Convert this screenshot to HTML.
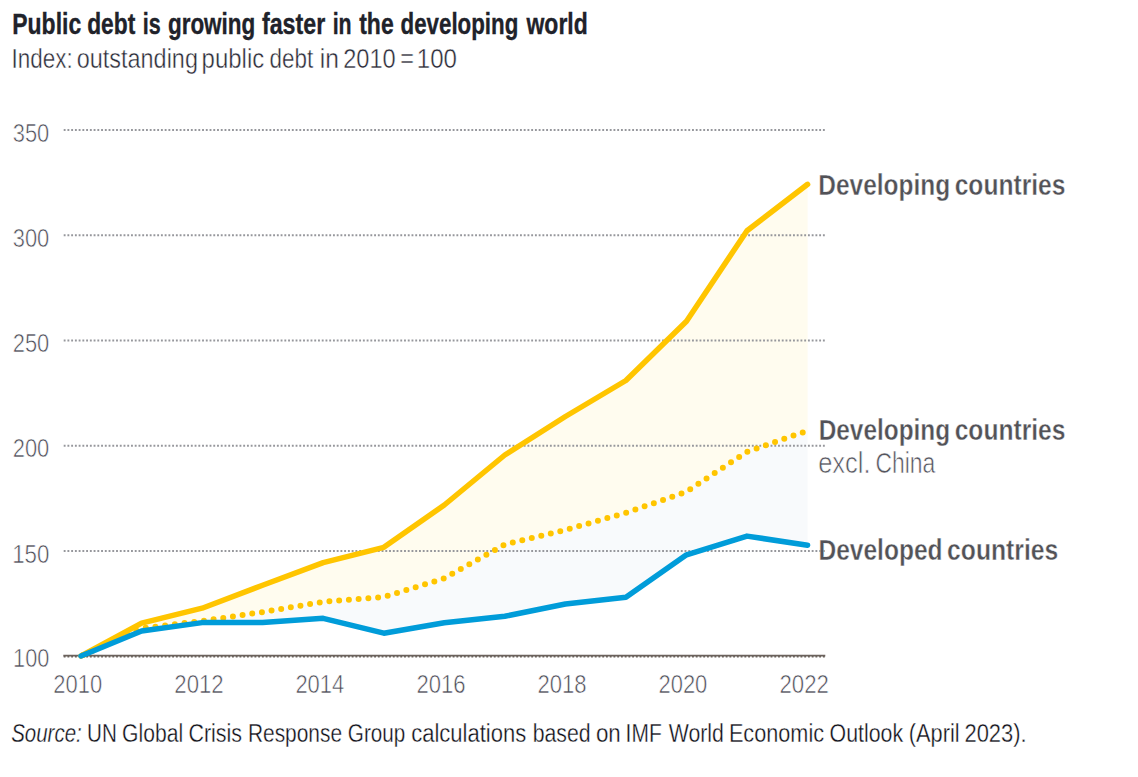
<!DOCTYPE html>
<html><head><meta charset="utf-8"><style>
html,body{margin:0;padding:0;background:#fff;width:1138px;height:777px;overflow:hidden}
svg{display:block}
text{font-family:"Liberation Sans",sans-serif}
.g{stroke:#96979c;stroke-width:1.9;stroke-dasharray:1.87 1.87}
.ax{font-size:26.3px;fill:#4a4a55;stroke:#fff;stroke-width:0.6px}
.lt{stroke:#fff;stroke-width:0.6px}
.lt2{stroke:#fff;stroke-width:0.45px}
.lt3{stroke:#fff;stroke-width:0.35px}
.md{stroke:#fff;stroke-width:0.5px}
.md0{stroke:#fff;stroke-width:0.4px}
.bd{stroke:#20222a;stroke-width:0.35px}
</style></head><body>
<svg width="1138" height="777" viewBox="0 0 1138 777">
<text x="12.32" y="33.7" font-size="28.8px" font-weight="bold" fill="#20222a" class="bd" textLength="68.82" lengthAdjust="spacingAndGlyphs">Public</text>
<text x="87.18" y="33.7" font-size="28.8px" font-weight="bold" fill="#20222a" class="bd" textLength="48.12" lengthAdjust="spacingAndGlyphs">debt</text>
<text x="142.75" y="33.7" font-size="28.8px" font-weight="bold" fill="#20222a" class="bd" textLength="17.95" lengthAdjust="spacingAndGlyphs">is</text>
<text x="167.93" y="33.7" font-size="28.8px" font-weight="bold" fill="#20222a" class="bd" textLength="87.38" lengthAdjust="spacingAndGlyphs">growing</text>
<text x="261.9" y="33.7" font-size="28.8px" font-weight="bold" fill="#20222a" class="bd" textLength="63.3" lengthAdjust="spacingAndGlyphs">faster</text>
<text x="332.67" y="33.7" font-size="28.8px" font-weight="bold" fill="#20222a" class="bd" textLength="18.97" lengthAdjust="spacingAndGlyphs">in</text>
<text x="359.23" y="33.7" font-size="28.8px" font-weight="bold" fill="#20222a" class="bd" textLength="34.46" lengthAdjust="spacingAndGlyphs">the</text>
<text x="400.61" y="33.7" font-size="28.8px" font-weight="bold" fill="#20222a" class="bd" textLength="117.66" lengthAdjust="spacingAndGlyphs">developing</text>
<text x="526.51" y="33.7" font-size="28.8px" font-weight="bold" fill="#20222a" class="bd" textLength="61.22" lengthAdjust="spacingAndGlyphs">world</text>
<text x="11.56" y="67.7" font-size="27.5px" fill="#2a2a36" class="lt2" textLength="61.18" lengthAdjust="spacingAndGlyphs">Index:</text>
<text x="76.79" y="67.7" font-size="27.5px" fill="#2a2a36" class="lt2" textLength="121.13" lengthAdjust="spacingAndGlyphs">outstanding</text>
<text x="201.62" y="67.7" font-size="27.5px" fill="#2a2a36" class="lt2" textLength="62.62" lengthAdjust="spacingAndGlyphs">public</text>
<text x="269.61" y="67.7" font-size="27.5px" fill="#2a2a36" class="lt2" textLength="43.61" lengthAdjust="spacingAndGlyphs">debt</text>
<text x="319.78" y="67.7" font-size="27.5px" fill="#2a2a36" class="lt2" textLength="19.14" lengthAdjust="spacingAndGlyphs">in</text>
<text x="343.19" y="67.7" font-size="27.5px" fill="#2a2a36" class="lt2" textLength="52.57" lengthAdjust="spacingAndGlyphs">2010</text>
<text x="400.3" y="67.7" font-size="27.5px" fill="#2a2a36" class="lt2" textLength="13.7" lengthAdjust="spacingAndGlyphs">=</text>
<text x="416.79" y="67.7" font-size="27.5px" fill="#2a2a36" class="lt2" textLength="40.11" lengthAdjust="spacingAndGlyphs">100</text>
<polygon points="81.0,656.0 141.6,623.2 202.1,608.2 262.6,585.2 323.2,562.6 383.8,547.3 444.3,505.0 504.8,455.0 565.4,416.5 625.9,380.5 686.5,321.2 747.0,230.7 807.6,184.3 807.6,430.7 747.0,451.8 686.5,491.7 625.9,512.9 565.4,529.9 504.8,544.5 444.3,578.3 383.8,597.0 323.2,601.8 262.6,612.1 202.1,621.0 141.6,628.3 81.0,656.0" fill="#fffcef"/>
<polygon points="81.0,656.0 141.6,628.3 202.1,621.0 262.6,612.1 323.2,601.8 383.8,597.0 444.3,578.3 504.8,544.5 565.4,529.9 625.9,512.9 686.5,491.7 747.0,451.8 807.6,430.7 807.6,545.2 747.0,536.1 686.5,554.8 625.9,597.3 565.4,604.0 504.8,616.3 444.3,622.7 383.8,633.2 323.2,618.3 262.6,622.6 202.1,622.6 141.6,631.0 81.0,656.0" fill="#f8fafc"/>
<line x1="63.7" y1="130.0" x2="825.5" y2="130.0" class="g"/><line x1="63.7" y1="235.25" x2="825.5" y2="235.25" class="g"/><line x1="63.7" y1="340.5" x2="825.5" y2="340.5" class="g"/><line x1="63.7" y1="445.75" x2="825.5" y2="445.75" class="g"/><line x1="63.7" y1="551.0" x2="825.5" y2="551.0" class="g"/>
<line x1="63.7" y1="656.8" x2="825.3" y2="656.8" stroke="#6b625c" stroke-width="1.5" stroke-dasharray="1.87 1.87"/>
<line x1="63.3" y1="655.6" x2="825.3" y2="655.6" stroke="#6b625c" stroke-width="1.8"/>
<polyline points="81.0,656.0 141.6,628.3 202.1,621.0 262.6,612.1 323.2,601.8 383.8,597.0 444.3,578.3 504.8,544.5 565.4,529.9 625.9,512.9 686.5,491.7 747.0,451.8 807.6,430.7" fill="none" stroke="#ffc500" stroke-width="6" stroke-linecap="round" stroke-dasharray="0 9.77" stroke-dashoffset="-2.4"/>
<polyline points="81.0,656.0 141.6,623.2 202.1,608.2 262.6,585.2 323.2,562.6 383.8,547.3 444.3,505.0 504.8,455.0 565.4,416.5 625.9,380.5 686.5,321.2 747.0,230.7 807.6,184.3" fill="none" stroke="#ffc500" stroke-width="5.5" stroke-linecap="round" stroke-linejoin="round"/>
<polyline points="81.0,656.0 141.6,631.0 202.1,622.6 262.6,622.6 323.2,618.3 383.8,633.2 444.3,622.7 504.8,616.3 565.4,604.0 625.9,597.3 686.5,554.8 747.0,536.1 807.6,545.2" fill="none" stroke="#009cd9" stroke-width="5.5" stroke-linecap="round" stroke-linejoin="round"/>
<text x="818.32" y="195" font-size="30px" font-weight="bold" fill="#525257" class="md0" textLength="131.86" lengthAdjust="spacingAndGlyphs">Developing</text>
<text x="954.69" y="195" font-size="30px" font-weight="bold" fill="#525257" class="md0" textLength="110.71" lengthAdjust="spacingAndGlyphs">countries</text>
<text x="818.63" y="440.4" font-size="30px" font-weight="bold" fill="#525257" class="md0" textLength="131.55" lengthAdjust="spacingAndGlyphs">Developing</text>
<text x="954.69" y="440.4" font-size="30px" font-weight="bold" fill="#525257" class="md0" textLength="110.71" lengthAdjust="spacingAndGlyphs">countries</text>
<text x="818.19" y="473.4" font-size="29px" fill="#55555e" class="lt" textLength="52.43" lengthAdjust="spacingAndGlyphs">excl.</text>
<text x="875.4" y="473.4" font-size="29px" fill="#55555e" class="lt" textLength="59.9" lengthAdjust="spacingAndGlyphs">China</text>
<text x="818.44" y="559.9" font-size="30px" font-weight="bold" fill="#525257" class="md0" textLength="124.12" lengthAdjust="spacingAndGlyphs">Developed</text>
<text x="947.09" y="559.9" font-size="30px" font-weight="bold" fill="#525257" class="md0" textLength="111.22" lengthAdjust="spacingAndGlyphs">countries</text>
<text x="11.19" y="741.8" font-size="25.8px" fill="#101018" class="lt3" font-style="italic" textLength="70.56" lengthAdjust="spacingAndGlyphs">Source:</text>
<text x="87.06" y="741.8" font-size="25.8px" fill="#101018" class="lt3" textLength="29.83" lengthAdjust="spacingAndGlyphs">UN</text>
<text x="122.08" y="741.8" font-size="25.8px" fill="#101018" class="lt3" textLength="61.05" lengthAdjust="spacingAndGlyphs">Global</text>
<text x="188.46" y="741.8" font-size="25.8px" fill="#101018" class="lt3" textLength="53.65" lengthAdjust="spacingAndGlyphs">Crisis</text>
<text x="247.92" y="741.8" font-size="25.8px" fill="#101018" class="lt3" textLength="94.12" lengthAdjust="spacingAndGlyphs">Response</text>
<text x="347.85" y="741.8" font-size="25.8px" fill="#101018" class="lt3" textLength="57.41" lengthAdjust="spacingAndGlyphs">Group</text>
<text x="411.15" y="741.8" font-size="25.8px" fill="#101018" class="lt3" textLength="115.03" lengthAdjust="spacingAndGlyphs">calculations</text>
<text x="532.65" y="741.8" font-size="25.8px" fill="#101018" class="lt3" textLength="58.0" lengthAdjust="spacingAndGlyphs">based</text>
<text x="595.88" y="741.8" font-size="25.8px" fill="#101018" class="lt3" textLength="24.83" lengthAdjust="spacingAndGlyphs">on</text>
<text x="625.62" y="741.8" font-size="25.8px" fill="#101018" class="lt3" textLength="36.09" lengthAdjust="spacingAndGlyphs">IMF</text>
<text x="668.72" y="741.8" font-size="25.8px" fill="#101018" class="lt3" textLength="55.13" lengthAdjust="spacingAndGlyphs">World</text>
<text x="728.9" y="741.8" font-size="25.8px" fill="#101018" class="lt3" textLength="95.18" lengthAdjust="spacingAndGlyphs">Economic</text>
<text x="829.6" y="741.8" font-size="25.8px" fill="#101018" class="lt3" textLength="73.47" lengthAdjust="spacingAndGlyphs">Outlook</text>
<text x="908.77" y="741.8" font-size="25.8px" fill="#101018" class="lt3" textLength="50.85" lengthAdjust="spacingAndGlyphs">(April</text>
<text x="964.46" y="741.8" font-size="25.8px" fill="#101018" class="lt3" textLength="62.22" lengthAdjust="spacingAndGlyphs">2023).</text>
<text x="12.72" y="141.5" class="ax" textLength="36.58" lengthAdjust="spacingAndGlyphs">350</text>
<text x="12.72" y="246.75" class="ax" textLength="36.58" lengthAdjust="spacingAndGlyphs">300</text>
<text x="12.72" y="352.0" class="ax" textLength="36.58" lengthAdjust="spacingAndGlyphs">250</text>
<text x="12.72" y="457.25" class="ax" textLength="36.58" lengthAdjust="spacingAndGlyphs">200</text>
<text x="12.14" y="562.5" class="ax" textLength="37.17" lengthAdjust="spacingAndGlyphs">150</text>
<text x="13.09" y="667.4" class="ax" textLength="36.2" lengthAdjust="spacingAndGlyphs">100</text>
<text x="53.33" y="693.4" class="ax" textLength="48.84" lengthAdjust="spacingAndGlyphs">2010</text>
<text x="174.35" y="693.4" class="ax" textLength="49.36" lengthAdjust="spacingAndGlyphs">2012</text>
<text x="295.39" y="693.4" class="ax" textLength="48.84" lengthAdjust="spacingAndGlyphs">2014</text>
<text x="416.42" y="693.4" class="ax" textLength="49.1" lengthAdjust="spacingAndGlyphs">2016</text>
<text x="537.45" y="693.4" class="ax" textLength="49.1" lengthAdjust="spacingAndGlyphs">2018</text>
<text x="658.48" y="693.4" class="ax" textLength="48.84" lengthAdjust="spacingAndGlyphs">2020</text>
<text x="779.5" y="693.4" class="ax" textLength="49.36" lengthAdjust="spacingAndGlyphs">2022</text>
</svg>
</body></html>
